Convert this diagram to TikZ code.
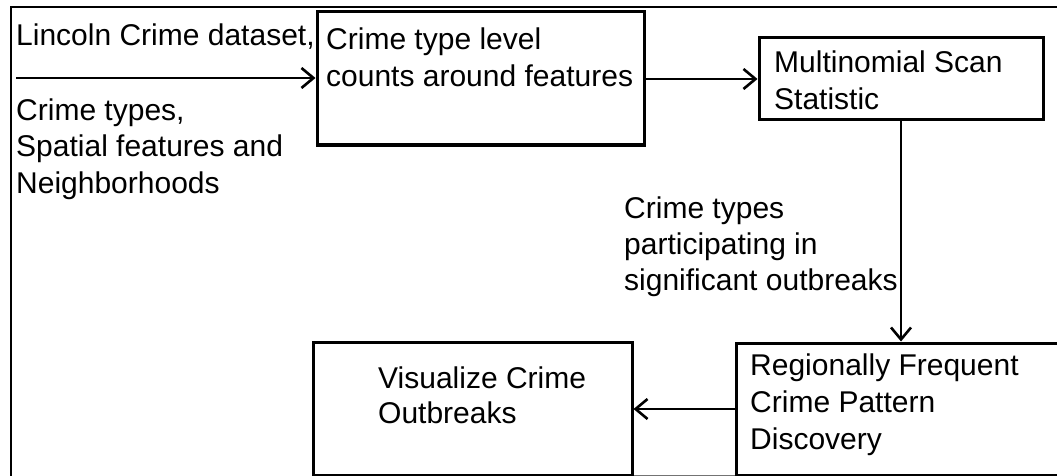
\documentclass[tikz,border=0pt]{standalone}
\usepackage{fontspec}
\setmainfont{Liberation Sans}
\usetikzlibrary{arrows.meta}
\begin{document}
\begin{tikzpicture}[x=1pt,y=-1pt,
  box/.style={draw=black,line width=3pt,minimum width=#1,inner sep=0pt,rectangle},
  txt/.style={anchor=base west,align=left,inner sep=0pt,font=\fontsize{30}{37}\selectfont},
  arr/.style={line width=2.6pt,-{Straight Barb[length=12pt,width=20pt,line width=2.6pt]}}]
\useasboundingbox (0,0) rectangle (1057,476);
\clip (0,0) rectangle (1057,476);
% outer frame
\draw[line width=2.2pt] (11,480) -- (11,7) -- (1060,7);
\draw[line width=1.4pt,black!55] (313,475.4) -- (1060,475.4);
% boxes
\node[box=327pt,minimum height=133pt] (b1) at (480.5,78.5) {};
\node[box=284pt,minimum height=82pt] (b2) at (901,79) {};
\node[box=340pt,minimum height=132pt] (b3) at (906,409) {};
\node[box=319pt,minimum height=133pt] (b4) at (472.5,408.5) {};
% texts (anchor = baseline of the last line)
\node[txt] (t0) at (16,46) {Lincoln Crime dataset,};
\node[txt,font=\fontsize{30}{36.5}\selectfont] (t1) at (16,193) {Crime types,\\Spatial features and\\Neighborhoods};
\node[txt] (tb1) at (326,87) {Crime type level\\counts around features};
\node[txt] (tb2) at (774,110) {Multinomial Scan\\Statistic};
\node[txt,font=\fontsize{30}{36}\selectfont] (lab) at (624,290) {Crime types\\participating in\\significant outbreaks};
\node[txt] (tb3) at (750,449) {Regionally Frequent\\Crime Pattern\\Discovery};
\node[txt,font=\fontsize{30}{35}\selectfont] (tb4) at (378,423) {Visualize Crime\\Outbreaks};
% connectors
\coordinate (src) at (16,78);
\draw[arr] (src) -- (src -| b1.west);
\draw[arr] (b1.east |- b2.west) -- (b2.west);
\draw[arr] (b2.south) -- (b2.south |- b3.north);
\draw[arr] (b3.west) -- (b3.west -| b4.east);
\end{tikzpicture}
\end{document}
